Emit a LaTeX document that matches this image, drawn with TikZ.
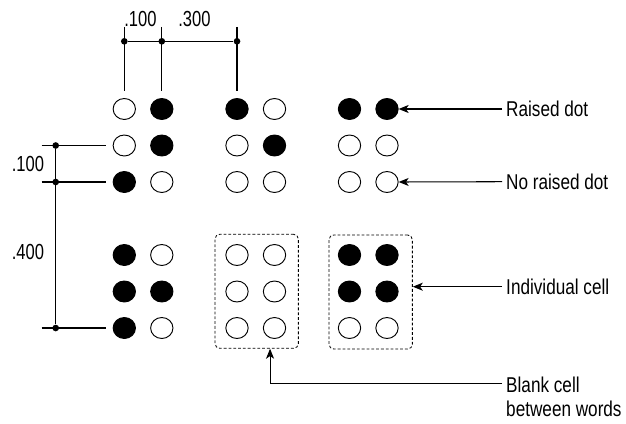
\documentclass[tikz,border=0pt]{standalone}
\usepackage{fontspec}
\setmainfont[FakeStretch=0.8]{Liberation Sans}
\newfontfamily\dimfont[FakeStretch=0.76]{Liberation Sans}
\usepackage{tikz}
\usetikzlibrary{shapes.geometric, arrows.meta, positioning, calc}
\tikzset{
    dot/.style={ellipse, draw, line width=0.8pt, minimum width=0.67cm, minimum height=0.63cm, inner sep=0pt},
    pin/.style={circle, fill=black, minimum size=0.2cm, inner sep=0pt},
    dimline/.style={line width=0.9pt},
    arrow/.style={line width=0.9pt, -{Stealth[length=0.3cm, width=0.24cm, inset=0.08cm]}},
    cellbox/.style={rectangle, draw, dash pattern=on 2.4pt off 1.7pt, line width=0.7pt, rounded corners=4pt, minimum width=2.5cm, minimum height=3.42cm},
    tag/.style={font=\fontsize{18.3}{20.5}\selectfont, inner xsep=0.12cm, inner ysep=0pt, anchor=west, align=left},
    dimtext/.style={font=\dimfont\fontsize{18.6}{20.5}\selectfont, inner sep=0pt}
}
\begin{document}
\begin{tikzpicture}[x=0.03cm, y=-0.03cm]
    \useasboundingbox (0,0) rectangle (626,423);
    % braille dots, row by row
    \foreach \r/\y/\fa/\fb/\fc/\fd/\fe/\ff in {
        1/109/white/black/black/white/black/black,
        2/145.5/white/black/white/black/white/white,
        3/182/black/white/white/white/white/white,
        4/255/black/white/white/white/black/black,
        5/291.5/black/black/white/white/black/black,
        6/328/black/white/white/white/white/white}{
        \foreach \c/\x/\f in {1/124.3/\fa, 2/161.8/\fb, 3/237/\fc, 4/274.5/\fd, 5/349.5/\fe, 6/387/\ff}
            \node[dot, fill=\f] (d\r\c) at (\x,\y) {};
    }
    % cells
    \node[cellbox] (blank) at (256.7,291.3) {};
    \node[cellbox] (cell) at (370.7,292) {};
    % top dimension
    \coordinate (exttop) at (0,27);
    \coordinate (extbot) at (0,91);
    \coordinate (dimy) at (0,41.3);
    \foreach \c in {1,2,3}
        \draw[dimline] (d1\c |- exttop) -- (d1\c |- extbot);
    \node[pin] (ta) at (d11 |- dimy) {};
    \node[pin] (tb) at (d12 |- dimy) {};
    \node[pin] (tc) at (d13 |- dimy) {};
    \draw[dimline] (ta) -- (tc);
    \node[dimtext] (tw1) at (140.5,19) {.100};
    \node[dimtext] (tw2) at (194.5,19) {.300};
    % left dimension
    \coordinate (extl) at (41.7,0);
    \coordinate (extr) at (106,0);
    \coordinate (dimx) at (55.7,0);
    \foreach \r in {2,3,6}
        \draw[dimline] (extl |- d\r1) -- (extr |- d\r1);
    \node[pin] (la) at (dimx |- d21) {};
    \node[pin] (lb) at (dimx |- d31) {};
    \node[pin] (lc) at (dimx |- d61) {};
    \draw[dimline] (la) -- (lc);
    \node[dimtext] (lw1) at (28,164) {.100};
    \node[dimtext] (lw2) at (28,251.5) {.400};
    % callouts
    \node[tag] (raised) at (502,109) {Raised dot};
    \node[tag] (noraised) at (502,181.7) {No raised dot};
    \node[tag] (indiv) at (502,286.7) {Individual cell};
    \node[tag, anchor=north west] (blanklbl) at (502,376.5) {Blank cell\\between words};
    \draw[arrow] (raised.west) -- (d16.east);
    \draw[arrow] (noraised.west) -- (d36.east);
    \draw[arrow] (indiv.west) -- (indiv.west -| cell.east);
    \draw[arrow] ([yshift=-0.2cm]blanklbl.north west) -| ([xshift=0.4cm]blank.south);
\end{tikzpicture}
\end{document}
